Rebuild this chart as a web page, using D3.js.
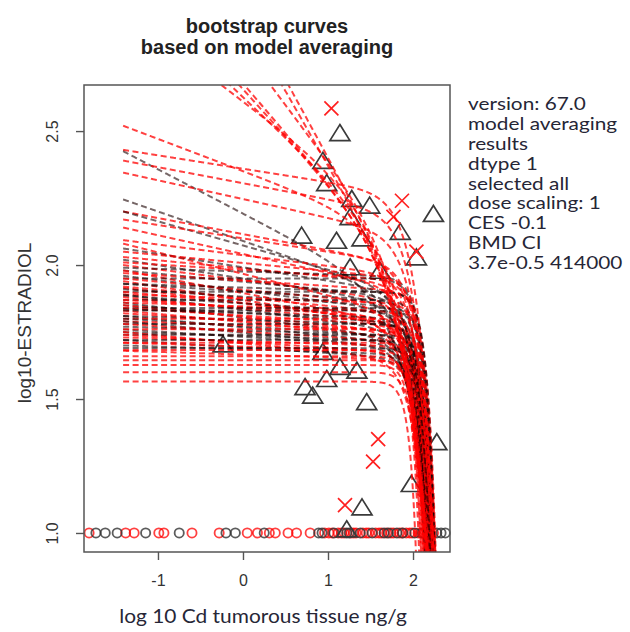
<!DOCTYPE html>
<html>
<head>
<meta charset="utf-8">
<script src="https://cdn.jsdelivr.net/npm/d3@7"></script>
<style>
  body { margin: 0; background: #fff; }
  text { font-family: "Liberation Sans", Arial, sans-serif; }
</style>
</head>
<body>
<svg id="chart" width="630" height="632"></svg>
<script>
// ---- data ----
const xTicks = [-1, 0, 1, 2];
const yTicks = [1.0, 1.5, 2.0, 2.5];

// observed points: open triangles (black), crosses (red)
const triangles = [
  [1.14, 2.489], [0.94, 2.385], [0.985, 2.302], [1.28, 2.243], [1.49, 2.218],
  [1.26, 2.175], [0.69, 2.106], [1.10, 2.087], [1.40, 2.096], [1.85, 2.12],
  [2.24, 2.187], [2.04, 2.025], [1.26, 1.988], [1.61, 1.975], [-0.235, 1.70],
  [0.94, 1.672], [1.14, 1.616], [1.34, 1.602], [0.985, 1.571], [0.73, 1.541],
  [0.82, 1.509], [1.455, 1.485], [1.40, 1.092], [1.98, 1.179], [2.28, 1.335],
  [1.22, 1.01]
];
const crosses = [
  [1.04, 2.585], [1.87, 2.24], [1.77, 2.18], [2.04, 2.05],
  [1.59, 1.35], [1.53, 1.266], [1.20, 1.104]
];
// censored values drawn as circles on the 1.0 line
const circlesRed = [-1.81, -1.38, -1.28, -0.99, -0.93, -0.60, -0.28, 0.05, 0.17, 0.31,
  0.38, 0.53, 0.63, 0.79, 0.96, 1.01, 1.05, 1.12, 1.16, 1.19, 1.27, 1.30, 1.33, 1.41,
  1.45, 1.48, 1.56, 1.60, 1.63, 1.69, 1.74, 1.77, 1.84, 1.87, 1.92, 1.96, 1.99, 2.06,
  2.09, 2.13, 2.19, 2.24];
const circlesBlack = [-1.73, -1.62, -1.48, -1.145, -0.75, -0.20, -0.09, 0.25, 0.89, 0.93,
  1.07, 1.22, 1.25, 1.38, 1.52, 1.66, 1.71, 1.81, 1.88, 2.02, 2.11, 2.17, 2.28, 2.33, 2.38];

// bootstrap curves: [level at left, slope, steepness, x of unit drop, black?]
const steepCurves = [
  [2.95, 0.24, 1.3, 2.12, 0],
  [3.05, 0.30, 1.5, 2.15, 0],
  [3.15, 0.35, 1.6, 2.18, 0],
  [3.20, 0.37, 1.7, 2.16, 0],
  [3.40, 0.42, 1.8, 2.17, 0],
  [3.70, 0.55, 2.0, 2.20, 0],
  [3.80, 0.58, 2.2, 2.22, 0]
];
const slopeCurves = [
  [2.52, 0.12, 1.5, 2.20, 0],
  [2.43, 0.05, 2.5, 2.20, 0],
  [2.425, 0.165, 1.5, 2.25, 1],
  [2.39, 0.06, 2.5, 2.20, 0],
  [2.345, 0.07, 2.5, 2.22, 0],
  [2.245, 0.11, 2.0, 2.25, 1],
  [2.20, 0.06, 3.0, 2.20, 0],
  [2.20, 0.09, 2.5, 2.22, 1],
  [2.17, 0.05, 3.0, 2.23, 0],
  [2.14, 0.07, 3.0, 2.20, 0],
  [2.093, 0.04, 3.0, 2.22, 0],
  [2.08, 0.08, 2.5, 2.24, 0],
  [2.062, 0.05, 3.0, 2.21, 1],
  [2.05, 0.03, 4.0, 2.23, 0]
];
const bandCurves = [
  [2.03, 0.03, 3.0, 2.24, 0], [2.02, 0.05, 2.5, 2.22, 1], [2.01, 0.02, 3.5, 2.26, 0],
  [2.00, 0.04, 3.0, 2.20, 0], [1.99, 0.01, 4.0, 2.25, 1], [1.98, 0.03, 3.0, 2.23, 1],
  [1.98, 0.06, 2.5, 2.19, 0], [1.97, 0.02, 4.5, 2.27, 0], [1.96, 0.04, 3.0, 2.22, 1],
  [1.95, 0.00, 4.0, 2.24, 1], [1.95, 0.03, 3.5, 2.21, 0], [1.94, 0.05, 2.5, 2.25, 0],
  [1.93, 0.02, 4.0, 2.23, 1], [1.93, 0.01, 5.0, 2.26, 1], [1.92, 0.03, 3.0, 2.20, 0],
  [1.915, 0.04, 3.5, 2.24, 0], [1.91, 0.02, 4.0, 2.22, 1], [1.90, 0.00, 5.0, 2.25, 1],
  [1.90, 0.03, 3.0, 2.18, 0], [1.89, 0.01, 4.5, 2.27, 0], [1.89, 0.04, 3.0, 2.21, 1],
  [1.885, 0.02, 4.0, 2.23, 1], [1.88, 0.03, 3.5, 2.24, 0], [1.87, 0.00, 5.0, 2.22, 1],
  [1.87, 0.02, 3.0, 2.19, 0], [1.86, 0.04, 2.5, 2.26, 1], [1.86, 0.01, 4.5, 2.21, 0],
  [1.85, 0.02, 4.0, 2.24, 1], [1.85, 0.03, 3.0, 2.17, 0], [1.84, 0.00, 5.5, 2.23, 1],
  [1.84, 0.02, 3.5, 2.25, 0], [1.835, 0.01, 4.0, 2.20, 1], [1.83, 0.03, 3.0, 2.22, 0],
  [1.83, 0.00, 5.0, 2.26, 1], [1.82, 0.02, 4.0, 2.19, 0], [1.81, 0.01, 4.5, 2.24, 1],
  [1.81, 0.03, 3.0, 2.21, 1], [1.80, 0.00, 5.0, 2.23, 0], [1.80, 0.02, 3.5, 2.18, 1],
  [1.79, 0.01, 4.0, 2.25, 0], [1.79, 0.03, 3.0, 2.22, 1], [1.78, 0.00, 5.0, 2.20, 1],
  [1.78, 0.02, 4.0, 2.24, 0], [1.77, 0.01, 4.5, 2.21, 1], [1.76, 0.02, 3.5, 2.23, 1],
  [1.76, 0.00, 5.0, 2.17, 0], [1.75, 0.01, 4.0, 2.22, 1], [1.75, 0.03, 3.0, 2.19, 0],
  [1.74, 0.00, 5.0, 2.24, 1], [1.74, 0.02, 4.0, 2.16, 0], [1.73, 0.01, 4.5, 2.21, 0],
  [1.72, 0.00, 5.0, 2.18, 1], [1.72, 0.02, 3.5, 2.23, 1], [1.71, 0.01, 4.0, 2.15, 0],
  [1.71, 0.00, 5.0, 2.20, 0], [1.70, 0.01, 4.5, 2.17, 1], [1.69, 0.00, 5.0, 2.22, 1],
  [1.683, 0.00, 5.0, 2.14, 0], [1.68, 0.01, 4.0, 2.19, 0], [1.66, 0.00, 5.0, 2.12, 0],
  [1.645, 0.00, 5.0, 2.16, 0], [1.627, 0.00, 5.5, 2.10, 0], [1.60, 0.00, 5.0, 2.13, 0],
  [1.565, 0.00, 5.5, 2.07, 0]
];

const titleLines = ["bootstrap curves", "based on model averaging"];
const infoLines = ["version: 67.0", "model averaging", "results", "dtype 1", "selected all",
  "dose scaling: 1", "CES -0.1", "BMD CI", "3.7e-0.5 414000"];
const xLabel = "log 10 Cd tumorous tissue ng/g";
const yLabel = "log10-ESTRADIOL";

// ---- layout ----
const box = { left: 84, right: 450, top: 85, bottom: 552 };
const curveStart = -1.41, curveStop = 2.45;

const svg = d3.select("#chart");

const x = d3.scaleLinear().domain([-1.87, 2.435]).range([box.left, box.right]);
const y = d3.scaleLinear().domain([0.929, 2.672]).range([box.bottom, box.top]);

svg.append("defs").append("clipPath").attr("id", "plotclip")
  .append("rect")
  .attr("x", box.left).attr("y", box.top)
  .attr("width", box.right - box.left).attr("height", box.bottom - box.top);

// points first, curves over them
const pts = svg.append("g");

pts.selectAll(".cens-red")
  .data(circlesRed).enter()
  .append("circle")
  .attr("cx", d => x(d)).attr("cy", y(1.0)).attr("r", 4.6)
  .attr("fill", "none").attr("stroke", "#ff0000").attr("stroke-opacity", 0.75)
  .attr("stroke-width", 1.8);

pts.selectAll(".cens-black")
  .data(circlesBlack).enter()
  .append("circle")
  .attr("cx", d => x(d)).attr("cy", y(1.0)).attr("r", 4.6)
  .attr("fill", "none").attr("stroke", "#333").attr("stroke-opacity", 0.8)
  .attr("stroke-width", 1.8);

pts.selectAll(".tri")
  .data(triangles).enter()
  .append("path")
  .attr("d", "M0,-9.5 L10,6.5 L-10,6.5 Z")
  .attr("transform", d => `translate(${x(d[0])},${y(d[1])})`)
  .attr("fill", "none").attr("stroke", "#3a3a3a").attr("stroke-width", 1.7);

pts.selectAll(".cross")
  .data(crosses).enter()
  .append("path")
  .attr("d", "M-7,-7 L7,7 M-7,7 L7,-7")
  .attr("transform", d => `translate(${x(d[0])},${y(d[1])})`)
  .attr("fill", "none").attr("stroke", "#ff2020").attr("stroke-width", 1.7);

// bootstrap curves
function curvePoints(c) {
  const [top, slope, steep, xEnd] = c;
  const out = [];
  for (const t of d3.range(curveStart, curveStop, 0.005)) {
    const v = top - slope * (t - curveStart) - Math.pow(10, steep * (t - xEnd));
    out.push([t, v]);
    if (v < 0.8) break;
  }
  return out;
}

const line = d3.line().x(d => x(d[0])).y(d => y(d[1]));
const allCurves = [...bandCurves, ...slopeCurves, ...steepCurves];

svg.append("g").attr("clip-path", "url(#plotclip)")
  .selectAll("path")
  .data(allCurves).enter()
  .append("path")
  .attr("d", d => line(curvePoints(d)))
  .attr("fill", "none")
  .attr("stroke", d => d[4] ? "#1a0000" : "#ff0000")
  .attr("stroke-opacity", d => d[4] ? 0.6 : 0.75)
  .attr("stroke-width", 2)
  .attr("stroke-dasharray", "6,3.5");

// box
svg.append("rect")
  .attr("x", box.left).attr("y", box.top)
  .attr("width", box.right - box.left).attr("height", box.bottom - box.top)
  .attr("fill", "none").attr("stroke", "#555").attr("stroke-width", 1.5);

// axes
const xAxis = svg.append("g")
  .attr("transform", `translate(0,${box.bottom})`)
  .call(d3.axisBottom(x).tickValues(xTicks).tickSize(8).tickFormat(d => String(d)));
xAxis.select(".domain").remove();
xAxis.selectAll("line").attr("stroke", "#555").attr("stroke-width", 1.4);
xAxis.selectAll("text")
  .attr("y", 34).attr("dy", null)
  .attr("fill", "#333").style("font-size", "16px");

const yAxis = svg.append("g")
  .attr("transform", `translate(${box.left},0)`)
  .call(d3.axisLeft(y).tickValues(yTicks).tickSize(8).tickFormat(d3.format(".1f")));
yAxis.select(".domain").remove();
yAxis.selectAll("line").attr("stroke", "#555").attr("stroke-width", 1.4);
yAxis.selectAll("text")
  .attr("x", 0).attr("y", 0).attr("dy", null)
  .attr("text-anchor", "middle")
  .attr("transform", "translate(-26.5,0) rotate(-90)")
  .attr("fill", "#333").style("font-size", "16px");

// titles and labels
svg.append("g").selectAll("text")
  .data(titleLines).enter()
  .append("text")
  .attr("x", 267)
  .attr("y", (d, i) => 33 + i * 21)
  .attr("text-anchor", "middle")
  .attr("font-weight", "bold")
  .style("font-size", "20px")
  .attr("fill", "#222")
  .text(d => d);

svg.append("text")
  .attr("transform", `translate(31,323) rotate(-90)`)
  .attr("text-anchor", "middle")
  .style("font-size", "19px")
  .attr("fill", "#333")
  .text(yLabel);

svg.append("text")
  .attr("transform", "translate(263,623) scale(1.1,1)")
  .attr("text-anchor", "middle")
  .style("font-family", "Lato, 'Open Sans', sans-serif")
  .style("font-size", "19px")
  .attr("fill", "#262636")
  .text(xLabel);

svg.append("g")
  .attr("transform", "translate(468,0) scale(1.26,1)")
  .selectAll("text")
  .data(infoLines).enter()
  .append("text")
  .attr("x", 0)
  .attr("y", (d, i) => 110 + i * 19.9)
  .style("font-family", "Lato, 'Open Sans', sans-serif")
  .style("font-size", "16.5px")
  .attr("fill", "#262636")
  .text(d => d);
</script>
</body>
</html>
